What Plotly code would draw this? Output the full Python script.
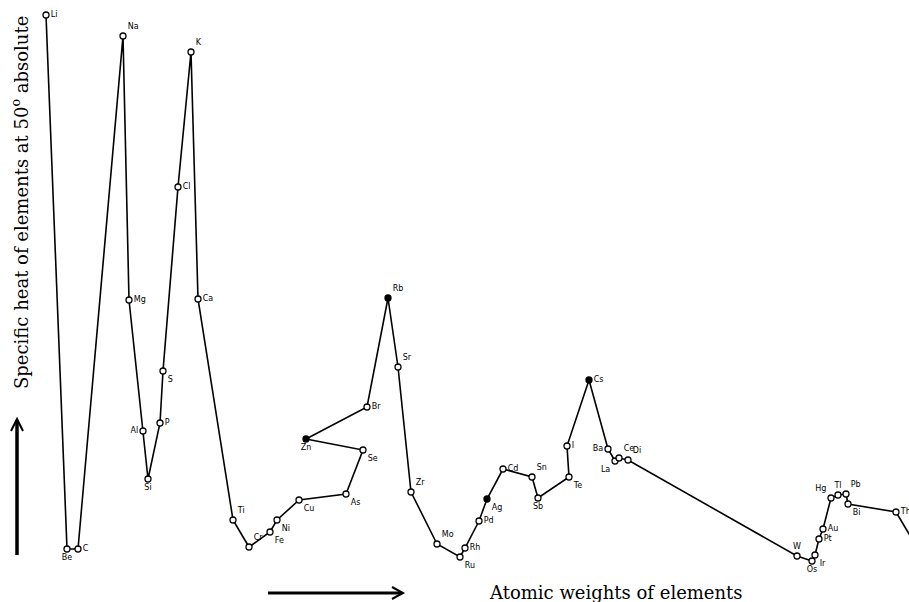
import plotly.graph_objects as go

W, H = 909, 602

# Elements in the order the curve is drawn
elements = ["Li", "Be", "C", "Na", "Mg", "Al", "Si", "P", "S", "Cl", "K", "Ca",
            "Ti", "Cr", "Fe", "Ni", "Cu", "As", "Se", "Zn", "Br", "Rb", "Sr", "Zr",
            "Mo", "Ru", "Rh", "Pd", "Ag", "Cd", "Sn", "Sb", "Te", "I", "Cs", "Ba",
            "La", "Ce", "Di", "W", "Os", "Ir", "Pt", "Au", "Hg", "Tl", "Pb", "Bi", "Th", "U"]

# horizontal position (atomic-weight direction, chart units)
position = [46, 67, 78, 123, 129, 143, 148, 160, 163, 178, 191, 198,
            233, 249, 270, 277, 299, 346, 363, 306, 367, 388, 398, 411,
            437, 460, 465, 479, 487, 503, 532, 538, 569, 567, 589, 608,
            615, 619, 628, 797, 812, 815, 819, 823, 831, 838, 846, 848, 896, 915]

# specific heat at 50 K (height above baseline, chart units)
specific_heat = [587, 53, 53, 566, 302, 171, 123, 179, 231, 415, 550, 303,
                 82, 55, 70, 82, 102, 108, 152, 163, 195, 304, 235, 110,
                 58, 45, 54, 81, 103, 133, 125, 104, 125, 156, 222, 153,
                 141, 144, 142, 46, 41, 47, 63, 73, 104, 107, 108, 98, 90, 58]

filled = ["Zn", "Rb", "Ag", "Cs"]

label_pos = {
    "Li": "middle right", "Be": "bottom center", "C": "middle right", "Na": "top right",
    "Mg": "middle right", "Al": "middle left", "Si": "bottom center", "P": "middle right",
    "S": "bottom right", "Cl": "middle right", "K": "top right", "Ca": "middle right",
    "Ti": "top right", "Cr": "top right", "Fe": "bottom right", "Ni": "bottom right",
    "Cu": "bottom right", "As": "bottom right", "Se": "bottom right", "Zn": "bottom center",
    "Br": "middle right", "Rb": "top right", "Sr": "top right", "Zr": "top right",
    "Mo": "top right", "Ru": "bottom right", "Rh": "middle right", "Pd": "middle right",
    "Ag": "bottom right", "Cd": "middle right", "Sn": "top right", "Sb": "bottom center",
    "Te": "bottom right", "I": "middle right", "Cs": "middle right", "Ba": "middle left",
    "La": "bottom left", "Ce": "top right", "Di": "top right", "W": "top center",
    "Os": "bottom center", "Ir": "bottom right", "Pt": "middle right", "Au": "middle right",
    "Hg": "top left", "Tl": "top center", "Pb": "top right", "Bi": "bottom right",
    "Th": "middle right", "U": "middle left",
}

fig = go.Figure()

fig.add_trace(go.Scatter(
    x=position, y=specific_heat, mode="lines",
    line=dict(color="black", width=1.6),
    hoverinfo="skip", showlegend=False,
))

fig.add_trace(go.Scatter(
    x=position[:-1], y=specific_heat[:-1], mode="markers+text",
    text=elements[:-1],
    textposition=[label_pos[e] for e in elements[:-1]],
    textfont=dict(family="DejaVu Sans", size=8, color="black"),
    marker=dict(
        symbol="circle", size=6,
        color=["black" if e in filled else "white" for e in elements[:-1]],
        line=dict(color="black", width=1.3),
    ),
    cliponaxis=False, showlegend=False,
))

# axis arrows (decoration)
shapes = [
    dict(type="line", x0=17, x1=17, y0=H - 555, y1=H - 420,
         line=dict(color="black", width=3.5)),
    dict(type="path", path=f"M 11,{H-431} L 17,{H-419} L 23,{H-431}",
         line=dict(color="black", width=2)),
    dict(type="line", x0=268, x1=401, y0=H - 593, y1=H - 593,
         line=dict(color="black", width=3)),
    dict(type="path", path=f"M 392,{H-587} L 403,{H-593} L 392,{H-599}",
         line=dict(color="black", width=2)),
]

annotations = [
    dict(text="Specific heat of elements at 50<sup>o</sup> absolute",
         x=20, y=H - 203, xref="x", yref="y", showarrow=False, textangle=-90,
         font=dict(family="DejaVu Serif", size=18, color="black")),
    dict(text="Atomic weights of elements",
         x=616, y=H - 592, xref="x", yref="y", showarrow=False,
         font=dict(family="DejaVu Serif", size=18, color="black")),
]

fig.update_layout(
    width=W, height=H,
    margin=dict(l=0, r=0, t=0, b=0),
    paper_bgcolor="white", plot_bgcolor="white",
    xaxis=dict(range=[0, W], visible=False, fixedrange=True),
    yaxis=dict(range=[0, H], visible=False, fixedrange=True),
    shapes=shapes, annotations=annotations,
)

fig.write_html("out.html",
               config={"displayModeBar": False},
               post_script="document.body.style.margin='0';document.body.style.overflow='hidden';")
